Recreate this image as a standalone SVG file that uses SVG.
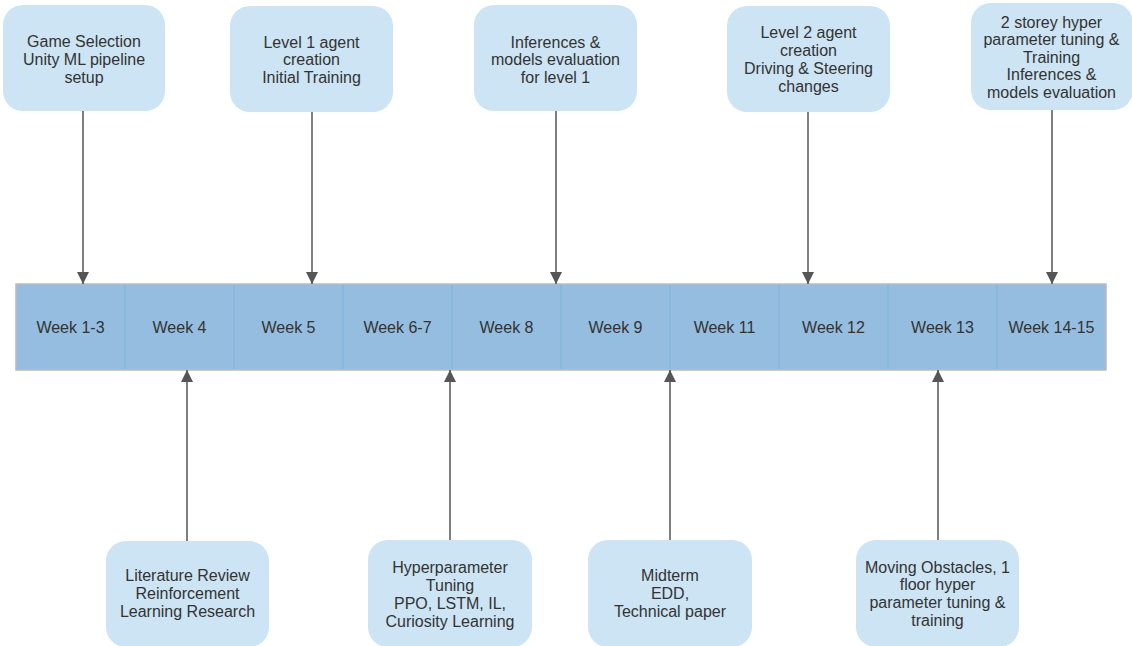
<svg xmlns="http://www.w3.org/2000/svg" width="1132" height="646" viewBox="0 0 1132 646">
<defs>
<style>
.box{fill:#cce4f3;}
.t{font-family:"Liberation Sans",Arial,sans-serif;font-size:16px;fill:#333;text-anchor:middle;}
.cell{fill:#94bde0;}
.div{stroke:#7fb2da;stroke-width:1;}
.conn{stroke:#555;stroke-width:1.5;fill:none;}
</style>
<marker id="ah" viewBox="0 0 12 12" refX="12" refY="6" markerWidth="12" markerHeight="12" markerUnits="userSpaceOnUse" orient="auto">
<path d="M0,0 L12,6 L0,12 Z" fill="#555"/>
</marker>
</defs>
<rect width="1132" height="646" fill="#fff"/>

<g id="timeline">
<rect x="16" y="284" width="1090" height="86" class="cell" stroke="#bcbcbc" stroke-width="1.5"/>
<line class="div" x1="125" y1="285" x2="125" y2="369"/>
<line class="div" x1="234" y1="285" x2="234" y2="369"/>
<line class="div" x1="343" y1="285" x2="343" y2="369"/>
<line class="div" x1="452" y1="285" x2="452" y2="369"/>
<line class="div" x1="561" y1="285" x2="561" y2="369"/>
<line class="div" x1="670" y1="285" x2="670" y2="369"/>
<line class="div" x1="779" y1="285" x2="779" y2="369"/>
<line class="div" x1="888" y1="285" x2="888" y2="369"/>
<line class="div" x1="997" y1="285" x2="997" y2="369"/>
<text class="t" x="70.5" y="332.5">Week 1-3</text>
<text class="t" x="179.5" y="332.5">Week 4</text>
<text class="t" x="288.5" y="332.5">Week 5</text>
<text class="t" x="397.5" y="332.5">Week 6-7</text>
<text class="t" x="506.5" y="332.5">Week 8</text>
<text class="t" x="615.5" y="332.5">Week 9</text>
<text class="t" x="724.5" y="332.5">Week 11</text>
<text class="t" x="833.5" y="332.5">Week 12</text>
<text class="t" x="942.5" y="332.5">Week 13</text>
<text class="t" x="1051.5" y="332.5">Week 14-15</text>
</g>

<g id="connectors">
<line class="conn" x1="83" y1="111" x2="83" y2="284" marker-end="url(#ah)"/>
<line class="conn" x1="312" y1="112" x2="312" y2="284" marker-end="url(#ah)"/>
<line class="conn" x1="556" y1="111" x2="556" y2="284" marker-end="url(#ah)"/>
<line class="conn" x1="808" y1="112" x2="808" y2="284" marker-end="url(#ah)"/>
<line class="conn" x1="1052" y1="110" x2="1052" y2="284" marker-end="url(#ah)"/>
<line class="conn" x1="187" y1="541" x2="187" y2="370" marker-end="url(#ah)"/>
<line class="conn" x1="450" y1="540" x2="450" y2="370" marker-end="url(#ah)"/>
<line class="conn" x1="670" y1="540" x2="670" y2="370" marker-end="url(#ah)"/>
<line class="conn" x1="938" y1="540" x2="938" y2="370" marker-end="url(#ah)"/>
</g>

<g id="n1">
<rect class="box" x="3" y="5" width="162" height="106" rx="20"/>
<text class="t" x="84" y="46.5">Game Selection</text>
<text class="t" x="84" y="64.5">Unity ML pipeline</text>
<text class="t" x="84" y="82.5">setup</text>
</g>
<g id="n2">
<rect class="box" x="230" y="6" width="163" height="106" rx="20"/>
<text class="t" x="311.5" y="47.5">Level 1 agent</text>
<text class="t" x="311.5" y="65">creation</text>
<text class="t" x="311.5" y="82.5">Initial Training</text>
</g>
<g id="n3">
<rect class="box" x="474" y="5" width="163" height="106" rx="20"/>
<text class="t" x="555.5" y="47.5">Inferences &amp;</text>
<text class="t" x="555.5" y="65">models evaluation</text>
<text class="t" x="555.5" y="82.5">for level 1</text>
</g>
<g id="n4">
<rect class="box" x="727" y="6" width="163" height="106" rx="20"/>
<text class="t" x="808.5" y="37.5">Level 2 agent</text>
<text class="t" x="808.5" y="55.5">creation</text>
<text class="t" x="808.5" y="73.5">Driving &amp; Steering</text>
<text class="t" x="808.5" y="91.5">changes</text>
</g>
<g id="n5">
<rect class="box" x="971" y="3" width="162" height="107" rx="20"/>
<text class="t" x="1051.5" y="27.5">2 storey hyper</text>
<text class="t" x="1051.5" y="45">parameter tuning &amp;</text>
<text class="t" x="1051.5" y="62.5">Training</text>
<text class="t" x="1051.5" y="80">Inferences &amp;</text>
<text class="t" x="1051.5" y="97.5">models evaluation</text>
</g>

<g id="n6">
<rect class="box" x="106" y="541" width="163" height="106" rx="20"/>
<text class="t" x="187.5" y="580.5">Literature Review</text>
<text class="t" x="187.5" y="598.5">Reinforcement</text>
<text class="t" x="187.5" y="617">Learning Research</text>
</g>
<g id="n7">
<rect class="box" x="368" y="540" width="164" height="107" rx="20"/>
<text class="t" x="450" y="572.5">Hyperparameter</text>
<text class="t" x="450" y="590.5">Tuning</text>
<text class="t" x="450" y="608.5">PPO, LSTM, IL,</text>
<text class="t" x="450" y="626.5">Curiosity Learning</text>
</g>
<g id="n8">
<rect class="box" x="588" y="540" width="164" height="107" rx="20"/>
<text class="t" x="670" y="580.5">Midterm</text>
<text class="t" x="670" y="598.5">EDD,</text>
<text class="t" x="670" y="616.5">Technical paper</text>
</g>
<g id="n9">
<rect class="box" x="856" y="540" width="163" height="107" rx="20"/>
<text class="t" x="937.5" y="572.5">Moving Obstacles, 1</text>
<text class="t" x="937.5" y="590">floor hyper</text>
<text class="t" x="937.5" y="607.5">parameter tuning &amp;</text>
<text class="t" x="937.5" y="625.5">training</text>
</g>
</svg>
